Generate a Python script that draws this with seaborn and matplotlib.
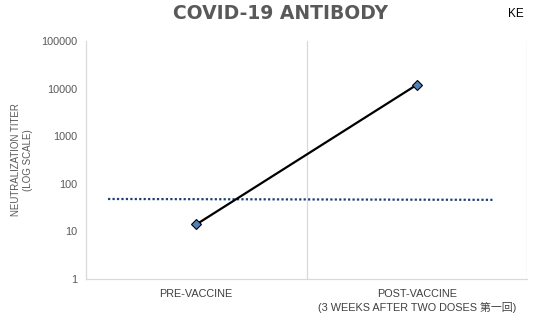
import matplotlib
matplotlib.use("Agg")
import matplotlib.pyplot as plt
import matplotlib.ticker as mticker
import seaborn as sns
import pandas as pd

# ---- data ----
categories = ["PRE-VACCINE", "POST-VACCINE\n(3 WEEKS AFTER TWO DOSES 第一回)"]
titer = [14, 12000]
threshold_x = [-0.4, 1.35]
threshold_y = [48, 46]
y_ticks = [1, 10, 100, 1000, 10000, 100000]

sns.set_theme(style="white")
plt.rcParams['font.family'] = ['Liberation Sans', 'Noto Sans CJK JP', 'DejaVu Sans']

fig = plt.figure(figsize=(5.4, 3.23), dpi=100)
ax = fig.add_axes([86/540, 1-279/323, (527-86)/540, (279-41)/323])

df = pd.DataFrame({"x": list(range(len(categories))), "titer": titer})
sns.lineplot(data=df, x="x", y="titer", ax=ax, color="black", linewidth=1.6,
             marker="D", markersize=5, markerfacecolor="#4F81BD",
             markeredgecolor="black", markeredgewidth=0.8, zorder=5)

dft = pd.DataFrame({"x": threshold_x, "y": threshold_y})
sns.lineplot(data=dft, x="x", y="y", ax=ax, color="#1F3F73", linewidth=1.6,
             linestyle=(0, (1, 1)), zorder=4)

ax.set_yscale("log")
ax.set_ylim(1, 100000)
ax.set_xlim(-0.5, 1.5)
ax.yaxis.set_major_locator(mticker.FixedLocator(y_ticks))
ax.yaxis.set_minor_locator(mticker.NullLocator())
ax.set_yticklabels([str(v) for v in y_ticks])
ax.set_xticks(range(len(categories)))
ax.set_xticklabels(categories, fontsize=7.8, color="#404040", linespacing=1.4)

for b in [0.5, 1.5]:
    ax.axvline(b, color="#d9d9d9", linewidth=0.9, zorder=0)

for s in ["top", "right"]:
    ax.spines[s].set_visible(False)
for s in ["left", "bottom"]:
    ax.spines[s].set_color("#d9d9d9")
    ax.spines[s].set_linewidth(0.9)

ax.tick_params(axis="y", length=0, labelsize=7.8, labelcolor="#595959", pad=6)
ax.tick_params(axis="x", length=0, pad=7)

ax.set_xlabel("")
ax.set_ylabel("NEUTRALIZATION TITER\n(LOG SCALE)", fontsize=7, color="#595959",
              linespacing=1.3, labelpad=6)

fig.text(0.519, 0.958, "COVID-19 ANTIBODY", ha="center", va="center",
         fontsize=13.5, fontweight="bold", color="#595959",
         family=["DejaVu Sans"])
fig.text(0.955, 0.956, "KE", ha="center", va="center", fontsize=8.5, color="black")

fig.savefig("out.png", dpi=100)
